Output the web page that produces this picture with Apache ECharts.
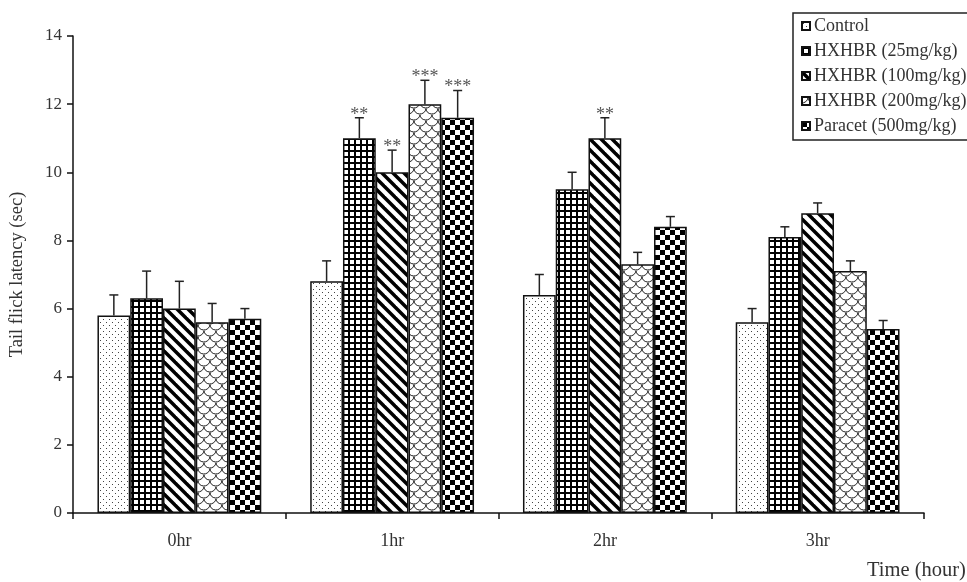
<!DOCTYPE html>
<html>
<head>
<meta charset="utf-8">
<script src="https://cdn.jsdelivr.net/npm/echarts@6/dist/echarts.min.js"></script>
<style>html,body{margin:0;padding:0;background:#fff;}#main{width:967px;height:582px;}</style>
</head>
<body>
<div id="main"></div>
<script>
// ---- data ----
const categories = ['0hr', '1hr', '2hr', '3hr'];
const seriesNames = ['Control', 'HXHBR (25mg/kg)', 'HXHBR (100mg/kg)', 'HXHBR (200mg/kg)', 'Paracet (500mg/kg)'];
const control = [5.8, 6.8, 6.4, 5.6];
const hx25 = [6.3, 11.0, 9.5, 8.1];
const hx100 = [6.0, 10.0, 11.0, 8.8];
const hx200 = [5.6, 12.0, 7.3, 7.1];
const paracet = [5.7, 11.6, 8.4, 5.4];
const errControl = [0.6, 0.6, 0.6, 0.4];
const errHx25 = [0.8, 0.6, 0.5, 0.3];
const errHx100 = [0.8, 0.65, 0.6, 0.3];
const errHx200 = [0.55, 0.7, 0.35, 0.3];
const errParacet = [0.3, 0.8, 0.3, 0.25];
const sigControl = ['', '', '', ''];
const sigHx25 = ['', '**', '', ''];
const sigHx100 = ['', '**', '**', ''];
const sigHx200 = ['', '***', '', ''];
const sigParacet = ['', '***', '', ''];
const yTicks = [0, 2, 4, 6, 8, 10, 12, 14];

const values = [control, hx25, hx100, hx200, paracet];
const errors = [errControl, errHx25, errHx100, errHx200, errParacet];
const sigs = [sigControl, sigHx25, sigHx100, sigHx200, sigParacet];

// ---- patterns ----
function tile(w, h, draw) {
  const c = document.createElement('canvas');
  c.width = w; c.height = h;
  const g = c.getContext('2d');
  g.fillStyle = '#fff'; g.fillRect(0, 0, w, h);
  draw(g, w, h);
  return c;
}
const patDots = tile(6, 6, g => { g.fillStyle = '#444'; g.fillRect(1, 1, 1, 1); g.fillRect(4, 4, 1, 1); });
const patGrid = tile(6, 6, g => { g.fillStyle = '#000'; g.fillRect(0, 0, 6, 2); g.fillRect(0, 0, 2, 6); });
const patDiag = tile(11, 11, (g, w) => {
  g.strokeStyle = '#000'; g.lineWidth = 3.5;
  for (const o of [-w, 0, w]) { g.beginPath(); g.moveTo(o - 2, -2); g.lineTo(o + w + 2, w + 2); g.stroke(); }
});
const patScale = tile(12, 12, g => {
  g.strokeStyle = '#222'; g.lineWidth = 1;
  for (const [cx, cy] of [[0, 0], [12, 0], [6, 6], [0, 12], [12, 12], [6, -6]]) {
    g.beginPath(); g.arc(cx, cy, 6, 0.1, Math.PI - 0.1); g.stroke();
  }
});
const patCheck = tile(10, 10, g => { g.fillStyle = '#000'; g.fillRect(0, 0, 5, 5); g.fillRect(5, 5, 5, 5); });
const patterns = [patDots, patGrid, patDiag, patScale, patCheck];

const FONT = 'Liberation Serif';
const TXT = '#333';
const CAT_GAP = 0.23;

const chart = echarts.init(document.getElementById('main'), null, { renderer: 'canvas' });

const series = [];
seriesNames.forEach((name, i) => {
  series.push({
    name: name,
    type: 'bar',
    data: values[i],
    barGap: '0%',
    barCategoryGap: (CAT_GAP * 100) + '%',
    itemStyle: { color: { image: patterns[i], repeat: 'repeat' }, borderColor: '#111', borderWidth: 1.5 },
    emphasis: { disabled: true },
    z: 2
  });
});
seriesNames.forEach((name, i) => {
  series.push({
    type: 'custom',
    name: name + ' err',
    data: values[i].map((v, j) => [j, v, errors[i][j]]),
    z: 3,
    silent: true,
    renderItem: function (params, api) {
      const j = api.value(0);
      const v = api.value(1);
      const e = api.value(2);
      const s = sigs[i][j];
      const catW = api.size([1, 0])[0];
      const groupW = catW * (1 - CAT_GAP);
      const bw = groupW / seriesNames.length;
      const base = api.coord([j, v]);
      const x = base[0] - groupW / 2 + bw * (i + 0.5);
      const yTop = api.coord([j, v + e])[1];
      const children = [
        { type: 'line', shape: { x1: x, y1: base[1], x2: x, y2: yTop }, style: { stroke: '#222', lineWidth: 1.5 } },
        { type: 'line', shape: { x1: x - 4.5, y1: yTop, x2: x + 4.5, y2: yTop }, style: { stroke: '#222', lineWidth: 1.5 } }
      ];
      if (s) {
        children.push({ type: 'text', x: x, y: yTop + 6, style: { text: s, fontFamily: FONT, fontSize: 18, fill: '#555', align: 'center', verticalAlign: 'bottom' } });
      }
      return { type: 'group', children: children };
    }
  });
});

chart.setOption({
  animation: false,
  backgroundColor: '#fff',
  grid: { left: 68, right: 43, top: 36, bottom: 69 },
  legend: {
    data: seriesNames,
    orient: 'vertical',
    left: 793,
    top: 13,
    padding: [4, 30, 5, 8],
    icon: 'rect',
    itemWidth: 8,
    itemHeight: 8,
    itemGap: 7,
    backgroundColor: '#fff',
    borderColor: '#222',
    borderWidth: 1.5,
    textStyle: { fontFamily: FONT, fontSize: 18, color: TXT, lineHeight: 18, padding: [0, 0, 0, -1] },
    selectedMode: false
  },
  xAxis: {
    type: 'category',
    data: categories,
    axisLine: { lineStyle: { color: '#111', width: 1.5 } },
    axisTick: { show: true, length: 6, lineStyle: { color: '#111', width: 1.5 } },
    axisLabel: { fontFamily: FONT, fontSize: 18, color: TXT, margin: 19 },
    splitLine: { show: false }
  },
  yAxis: {
    type: 'value',
    min: yTicks[0],
    max: yTicks[yTicks.length - 1],
    interval: 2,
    name: 'Tail flick latency (sec)',
    nameLocation: 'middle',
    nameRotate: 90,
    nameGap: 46,
    nameTextStyle: { fontFamily: FONT, fontSize: 18.5, color: TXT },
    axisLine: { show: true, lineStyle: { color: '#111', width: 1.5 } },
    axisTick: { show: true, length: 6, lineStyle: { color: '#111', width: 1.5 } },
    axisLabel: { fontFamily: FONT, fontSize: 17, color: TXT, margin: 11 },
    splitLine: { show: false }
  },
  graphic: [{
    type: 'text',
    left: 867,
    top: 560,
    style: { text: 'Time (hour)', fontFamily: FONT, fontSize: 20.5, fill: TXT }
  }],
  series: series
});
</script>
</body>
</html>
